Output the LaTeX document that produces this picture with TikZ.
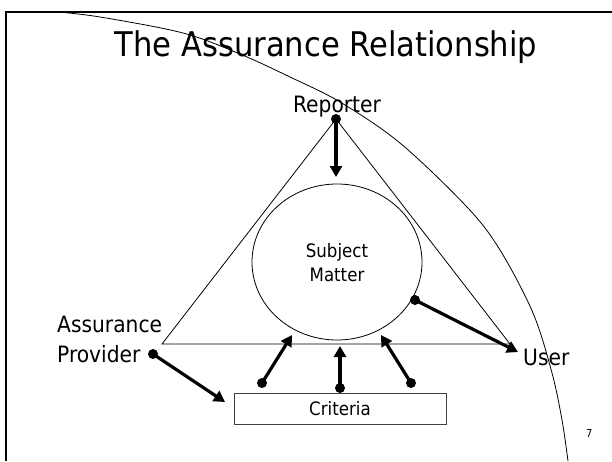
\documentclass[tikz,border=0pt]{standalone}
\usepackage{fontspec}
\setmainfont{DejaVu Sans Condensed}
\usetikzlibrary{arrows.meta,shapes.geometric}
\begin{document}
\begin{tikzpicture}[x=1pt,y=-1pt,
  thinline/.style={line width=0.8pt},
  bigarrow/.style={line width=3.2pt,-{Triangle[length=11pt,width=12pt]}},
  dot/.style={circle,fill=black,inner sep=0pt,minimum size=10pt},
  lbl/.style={font=\fontsize{22.5}{30}\selectfont,inner sep=0pt},
  inner/.style={font=\fontsize{18.5}{24}\selectfont,inner sep=0pt,align=center},
]
\useasboundingbox (0,0) rectangle (612,461);
% slide frame
\coordinate (fBL) at (6,461);
\coordinate (fTL) at (6,11.7);
\coordinate (fTR) at (612,11.7);
\draw[line width=2pt] (fBL) -- (fTL) -- (fTR);
% big arc
\draw[thinline] plot[smooth,tension=0.55] coordinates {(55,11.7) (100,17) (183,33) (240,54) (290,77) (340,102) (400,143) (467,207) (500,250) (533,313) (552,373) (562,420) (568,461)};
% title
\node[font=\fontsize{34}{40}\selectfont,inner sep=0pt,anchor=base] (title) at (326,56) {The Assurance Relationship};
% triangle
\coordinate (apex) at (336,119);
\coordinate (bl) at (162,344);
\coordinate (br) at (510,344);
\draw[thinline] (apex) -- (bl) -- (br) -- cycle;
% subject matter
\node[draw,thinline,ellipse,minimum width=170pt,minimum height=156pt,inner sep=0pt] (sm) at (337,262) {};
\node[inner] (smtext) at (337,263) {Subject\\Matter};
% criteria
\node[draw=black!75,thinline,minimum width=212pt,minimum height=31pt,inner sep=0pt,font=\fontsize{18.5}{24}\selectfont] (crit) at (340,408.5) {Criteria};
% labels
\node[lbl,anchor=base] (rep) at (337,112) {Reporter};
\node[lbl,anchor=base west] (user) at (523,365) {User};
\node[lbl,anchor=south west,align=left] (prov) at (57,363) {Assurance\\Provider};
\node[font=\fontsize{11}{13}\selectfont,inner sep=0pt,anchor=base west] (pg) at (586,437) {7};
% dots
\node[dot] (dRep) at (336,119) {};
\node[dot] (dSm) at (415,300) {};
\node[dot] (dProv) at (153,354) {};
\node[dot] (dC1) at (262,383) {};
\node[dot] (dC2) at (340,388) {};
\node[dot] (dC3) at (411,383) {};
% arrow tips
\coordinate (tRep) at (336,177);
\coordinate (tUser) at (518,352);
\coordinate (tCrit) at (225,402);
\coordinate (tC1) at (292,335);
\coordinate (tC2) at (340,346);
\coordinate (tC3) at (381,335);
% arrows
\draw[bigarrow] (dRep.center) -- (tRep);
\draw[bigarrow] (dSm.center) -- (tUser);
\draw[bigarrow] (dProv.center) -- (tCrit);
\draw[bigarrow] (dC1.center) -- (tC1);
\draw[bigarrow] (dC2.center) -- (tC2);
\draw[bigarrow] (dC3.center) -- (tC3);
\end{tikzpicture}
\end{document}
